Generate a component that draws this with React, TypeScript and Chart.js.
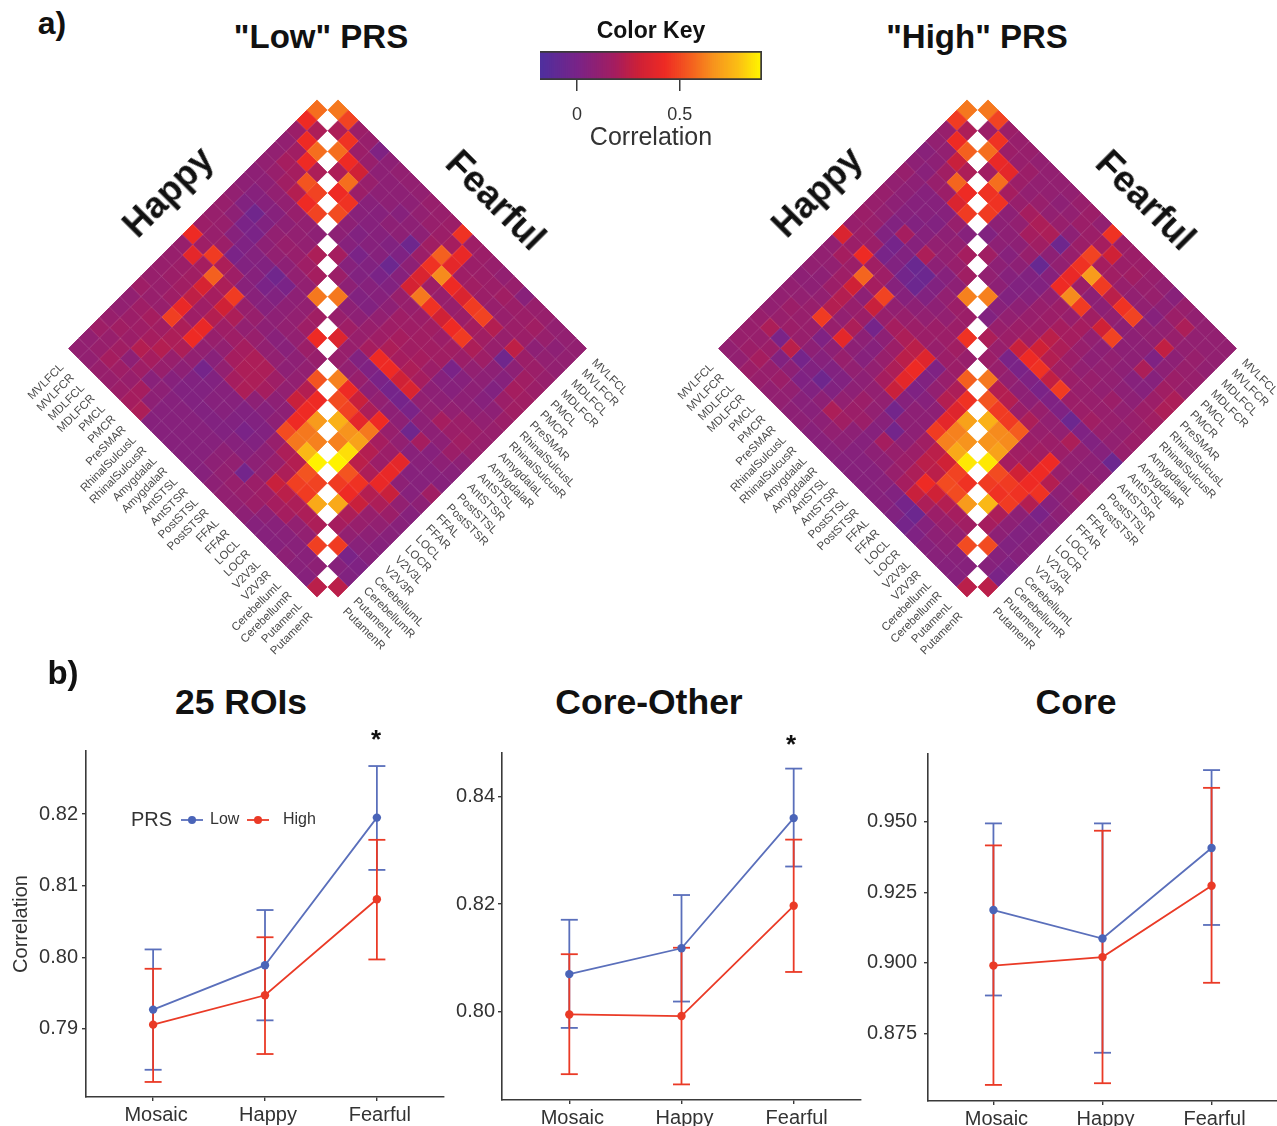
import React, { useEffect, useRef } from "react";
import { Chart, registerables } from "chart.js";

Chart.register(...registerables);
Chart.defaults.font.family = "'Liberation Sans', Arial, sans-serif";

// ---------- data ----------
const roiLabels = ["MVLFCL","MVLFCR","MDLFCL","MDLFCR","PMCL","PMCR","PreSMAR","RhinalSulcusL","RhinalSulcusR","AmygdalaL","AmygdalaR","AntSTSL","AntSTSR","PostSTSL","PostSTSR","FFAL","FFAR","LOCL","LOCR","V2V3L","V2V3R","CerebellumL","CerebellumR","PutamenL","PutamenR"];

// correlations in hundredths; row r holds columns 0..r of the lower triangle for ROI r+1
const lowHappy = [
[58],
[42,20],
[14,42,58],
[10,16,42,20],
[10,18,18,52,48],
[10,12,16,22,42,48],
[8,8,10,10,12,10,8],
[8,5,5,5,8,10,10,20],
[10,3,-4,3,10,12,12,15,18],
[12,8,0,0,8,10,8,10,10,60],
[12,12,5,2,4,3,-4,0,8,10,16],
[14,12,14,0,3,5,0,3,8,10,15,42],
[42,15,46,20,15,6,6,5,8,10,10,14,12],
[12,38,18,55,20,46,12,12,8,6,6,8,10,52],
[12,14,16,33,18,30,20,10,12,10,10,8,10,22,42],
[12,14,16,25,15,22,15,15,18,20,20,15,10,28,42,68],
[12,12,15,40,15,40,12,10,18,20,20,18,8,8,42,60,62],
[15,12,12,47,20,42,10,6,10,18,20,8,5,8,50,60,76,88],
[10,15,18,16,20,20,10,-2,3,5,5,3,3,3,12,20,22,52,48],
[10,14,15,18,22,12,8,3,3,5,5,3,0,3,8,12,20,47,46,72],
[12,16,14,22,18,12,5,3,3,3,3,3,5,5,8,10,28,24,20,20,20],
[15,12,16,8,15,6,8,5,5,5,5,5,8,10,-3,14,15,18,18,10,10,47],
[10,12,18,15,12,18,8,5,5,5,5,5,8,10,12,12,14,8,6,6,6,6,8],
[10,10,12,12,14,18,20,5,5,5,5,5,5,8,10,10,8,5,5,5,8,6,5,24],
];
const lowFearful = [
[60],
[48,20],
[14,44,58],
[12,14,42,20],
[2,12,30,58,42],
[8,8,12,14,44,50],
[10,8,8,6,6,8,8],
[10,8,8,5,5,3,5,18],
[10,8,5,8,5,5,0,5,14],
[12,10,8,8,3,5,3,3,8,60],
[12,12,8,-5,2,-6,0,5,3,8,12],
[14,14,16,14,8,5,3,5,3,8,15,35],
[44,18,55,44,34,32,12,8,10,12,12,12,12],
[15,40,38,64,15,60,12,15,15,15,18,3,10,62],
[14,14,15,42,12,44,14,15,18,20,42,2,12,42,50],
[12,14,16,34,12,30,16,16,16,18,42,0,8,28,48,74],
[10,14,14,46,14,42,14,16,18,20,30,-2,10,20,38,66,62],
[12,16,12,48,18,46,16,16,14,18,34,-2,8,42,60,70,84,88],
[6,14,12,22,16,20,14,0,5,8,10,0,8,12,18,22,24,52,46],
[12,14,14,12,12,15,10,5,5,8,10,8,-4,10,14,14,20,44,42,72],
[12,16,14,25,-4,8,8,8,8,10,18,8,18,6,38,40,40,22,28,20,18],
[10,12,8,14,8,5,3,5,8,14,14,8,5,6,5,8,28,20,12,12,10,46],
[10,8,10,14,16,18,14,8,10,14,16,14,8,5,5,5,10,14,10,8,6,0,5],
[10,10,10,12,14,16,16,14,12,12,12,8,6,5,16,8,5,6,6,5,5,2,3,24],
];
const highHappy = [
[60],
[46,20],
[12,42,55],
[10,10,28,20],
[6,8,16,56,42],
[8,6,12,14,34,46],
[12,8,5,5,5,12,5],
[10,8,5,5,3,8,10,18],
[12,8,5,3,5,10,10,12,16],
[12,10,3,18,5,20,8,5,8,62],
[14,12,3,-2,3,-7,-6,3,10,14,14],
[12,14,14,-1,3,-3,-6,3,8,10,14,44],
[34,14,42,16,15,5,5,8,10,14,14,16,12],
[10,18,14,56,18,48,10,12,14,14,12,14,14,55],
[10,10,15,30,8,28,12,18,20,24,36,2,12,20,44],
[10,8,14,22,12,14,-2,8,14,24,42,3,10,22,36,70],
[8,8,10,22,10,20,8,5,12,20,38,2,5,8,38,62,66],
[10,10,12,46,12,38,8,5,10,18,28,5,8,8,46,62,72,86],
[10,14,12,12,2,8,12,10,8,10,10,-3,8,8,16,24,30,48,44],
[10,12,14,12,8,5,3,3,8,14,10,6,-3,8,14,24,24,50,50,68],
[12,20,0,24,-2,3,-5,3,10,14,14,5,18,12,14,20,42,30,22,18,16],
[12,12,14,3,8,2,3,8,20,16,8,5,8,8,12,18,28,20,14,12,10,50],
[12,14,18,12,14,10,6,6,8,10,8,5,5,5,6,3,-2,-6,5,8,8,6,5],
[10,10,14,12,10,10,8,8,6,6,6,5,5,5,5,5,3,-2,2,5,6,5,5,24],
];
const highFearful = [
[60],
[48,14],
[14,44,58],
[12,14,40,16],
[12,12,38,58,44],
[10,14,14,18,44,46],
[10,10,10,12,8,8,3],
[10,10,12,18,10,8,8,16],
[10,8,10,20,18,8,5,8,10],
[12,10,12,20,16,12,8,5,8,62],
[14,14,8,-5,8,-8,3,3,3,6,3],
[10,14,14,12,10,5,3,5,8,10,12,20],
[44,18,48,44,40,42,10,12,12,14,14,12,14],
[14,30,18,68,14,64,14,14,14,16,28,0,12,60],
[14,14,16,46,8,46,12,18,24,30,42,0,10,22,52],
[14,16,12,24,8,16,18,18,20,22,44,2,8,22,46,74],
[12,12,10,44,10,30,10,12,14,16,26,0,8,14,46,64,66],
[10,12,10,48,8,48,8,8,10,14,46,2,12,20,54,64,70,86],
[6,8,5,10,8,8,10,10,12,12,14,2,10,12,14,16,18,50,46],
[12,14,10,10,8,8,8,10,10,12,14,-6,10,14,16,18,30,46,44,76],
[10,20,12,26,2,20,5,8,14,12,16,2,20,14,42,42,42,44,46,20,18],
[10,10,10,8,8,5,5,8,10,12,12,3,10,10,12,22,44,22,8,8,8,50],
[10,10,12,12,14,16,14,14,12,10,10,5,8,8,8,8,5,0,3,3,3,5,5],
[10,10,10,12,12,20,20,16,14,14,12,-6,8,10,14,10,8,6,5,5,5,2,0,24],
];

const conditions = ["Mosaic", "Happy", "Fearful"];

const allLowMean = [0.7927, 0.7989, 0.8195];
const allLowUpper = [0.8011, 0.8066, 0.8267];
const allLowLower = [0.7843, 0.7912, 0.8122];
const allHighMean = [0.7906, 0.7947, 0.8081];
const allHighUpper = [0.7984, 0.8028, 0.8164];
const allHighLower = [0.7826, 0.7865, 0.7997];

const coLowMean = [0.807, 0.8118, 0.836];
const coLowUpper = [0.8171, 0.8217, 0.8452];
const coLowLower = [0.797, 0.8019, 0.827];
const coHighMean = [0.7995, 0.7992, 0.8197];
const coHighUpper = [0.8107, 0.8119, 0.832];
const coHighLower = [0.7884, 0.7865, 0.8074];

const coreLowMean = [0.9187, 0.9086, 0.9407];
const coreLowUpper = [0.9494, 0.9494, 0.9683];
const coreLowLower = [0.8884, 0.8681, 0.9134];
const coreHighMean = [0.899, 0.902, 0.9273];
const coreHighUpper = [0.9416, 0.9468, 0.962];
const coreHighLower = [0.8567, 0.8573, 0.8929];

const keyTicks = [0, 0.5];

// ---------- styling ----------
const stops: [number, string][] = [
  [-0.18, "#4f2f9e"], [0, "#7a2387"], [0.18, "#a51d5f"], [0.29, "#cc2038"], [0.42, "#ee2a24"],
  [0.55, "#f4601f"], [0.66, "#f7941d"], [0.78, "#fbbf14"], [0.88, "#fff200"], [0.9, "#fff200"],
];
const hex = (s: string) => [1, 3, 5].map((k) => parseInt(s.slice(k, k + 2), 16));
function colorOf(v: number) {
  if (v <= stops[0][0]) return stops[0][1];
  for (let k = 1; k < stops.length; k++) {
    if (v <= stops[k][0]) {
      const t = (v - stops[k - 1][0]) / (stops[k][0] - stops[k - 1][0]);
      const a = hex(stops[k - 1][1]);
      const b = hex(stops[k][1]);
      return `rgb(${a.map((c, n) => Math.round(c + (b[n] - c) * t)).join(",")})`;
    }
  }
  return stops[stops.length - 1][1];
}

const CELL = 10.37;
const Y0 = 99.6;
const BLUE = "#5a6fbb";
const BLUE_DOT = "#4a64b8";
const RED = "#ea3a26";
const AXIS = "#3a3a3a";
const FONT = "'Liberation Sans', Arial, sans-serif";

function triangle(matrix: number[][], side: number) {
  const out: { x: number; y: number; v: number }[] = [];
  matrix.forEach((row, r) =>
    row.forEach((val, j) => {
      const i = r + 1;
      out.push({ x: side * (i - j), y: i + j, v: val / 100 });
    })
  );
  return out;
}

function heatConfig(happy: number[][], fearful: number[][], cx: number, left: number, top: number, w: number, h: number): any {
  const cell = (ctx: any) => (ctx.raw ? colorOf(ctx.raw.v) : "#fff");
  const ds = (label: string, data: any[]) => ({
    label, data, pointStyle: "rectRot", pointRadius: CELL - 0.3, pointHoverRadius: CELL,
    pointBackgroundColor: cell, pointBorderColor: cell, pointBorderWidth: 0.9, showLine: false,
  });
  const diag = roiLabels.map((_, k) => ({ x: 0, y: 2 * k }));
  return {
    type: "scatter",
    data: {
      datasets: [
        { label: "ROI", data: diag, pointStyle: "rectRot", pointRadius: CELL - 0.2, pointBackgroundColor: "#fff", pointBorderColor: "#fff", pointBorderWidth: 0, showLine: false },
        ds("Happy", triangle(happy, -1)),
        ds("Fearful", triangle(fearful, 1)),
      ],
    },
    options: {
      animation: false, responsive: false, events: [],
      layout: { padding: 0, autoPadding: false },
      plugins: { legend: { display: false }, tooltip: { enabled: false }, title: { display: false } },
      scales: {
        x: { type: "linear", display: false, min: (left - cx) / CELL, max: (left + w - cx) / CELL },
        y: { type: "linear", display: false, reverse: true, min: (top - Y0) / CELL, max: (top + h - Y0) / CELL },
      },
    },
    plugins: [{
      id: "roiLabels",
      afterDatasetsDraw(chart: any) {
        const { ctx, scales } = chart;
        ctx.save();
        ctx.font = `11.5px ${FONT}`;
        ctx.fillStyle = "#4a4a4a";
        ctx.textBaseline = "middle";
        roiLabels.forEach((name, j) => {
          const edge = 24 - j;
          const yv = 24 + j;
          ctx.save();
          ctx.translate(scales.x.getPixelForValue(-edge - 1.6), scales.y.getPixelForValue(yv + 1.65));
          ctx.rotate(-Math.PI / 4);
          ctx.textAlign = "right";
          ctx.fillText(name, 0, 0);
          ctx.restore();
          ctx.save();
          ctx.translate(scales.x.getPixelForValue(edge + 1.65), scales.y.getPixelForValue(yv + 1.2));
          ctx.rotate(Math.PI / 4);
          ctx.textAlign = "left";
          ctx.fillText(name, 0, 0);
          ctx.restore();
        });
        ctx.restore();
      },
    }],
  };
}

function lineConfig(o: any): any {
  const series = (name: string, color: string, dot: string, mean: number[], up: number[], lo: number[]) => {
    const meanDs = {
      label: name, data: mean.map((y, x) => ({ x, y })), showLine: true, borderColor: color, borderWidth: 1.8,
      pointStyle: "circle", pointRadius: 4.2, pointBackgroundColor: dot, pointBorderColor: dot, pointBorderWidth: 0, tension: 0,
    };
    const stems = mean.map((_, x) => ({
      label: `${name} interval ${conditions[x]}`, data: [{ x, y: lo[x] }, { x, y: up[x] }], showLine: true,
      borderColor: color, borderWidth: 1.8, pointRadius: 0,
    }));
    const caps = {
      label: `${name} caps`, data: [...up.map((y, x) => ({ x, y })), ...lo.map((y, x) => ({ x, y }))], showLine: false,
      pointStyle: "line", pointRadius: 8.5, pointBorderColor: color, pointBorderWidth: 1.8, pointBackgroundColor: color,
    };
    return { meanDs, stems, caps };
  };
  const low = series("Low", BLUE, BLUE_DOT, o.lowMean, o.lowUpper, o.lowLower);
  const high = series("High", RED, RED, o.highMean, o.highUpper, o.highLower);
  const fixedTicks = (vals: number[]) => (s: any) => { s.ticks = vals.map((value) => ({ value })); };
  return {
    type: "scatter",
    data: { datasets: [low.meanDs, high.meanDs, ...high.stems, high.caps, ...low.stems, low.caps] },
    options: {
      animation: false, responsive: false, events: [],
      layout: { padding: { top: o.padTop, right: o.padRight, left: 0, bottom: 0 }, autoPadding: false },
      plugins: { legend: { display: false }, tooltip: { enabled: false }, title: { display: false } },
      scales: {
        x: {
          type: "linear", min: -0.6, max: 2.6,
          afterBuildTicks: fixedTicks([0, 1, 2]),
          afterFit: (s: any) => { s.height = o.xHeight; },
          border: { display: true, color: AXIS, width: 1.6 },
          grid: { display: true, drawOnChartArea: false, drawTicks: true, tickLength: 4, color: AXIS, lineWidth: 1.4 },
          ticks: { color: "#333", font: { size: 20 }, padding: 2, labelOffset: 3, maxRotation: 0, autoSkip: false, callback: (v: number) => conditions[v] },
        },
        y: {
          type: "linear", min: o.yMin, max: o.yMax,
          afterBuildTicks: fixedTicks(o.yTicks),
          afterFit: (s: any) => { s.width = o.yWidth; },
          border: { display: true, color: AXIS, width: 1.6 },
          grid: { display: true, drawOnChartArea: false, drawTicks: true, tickLength: 4, color: AXIS, lineWidth: 1.4 },
          title: o.yTitle ? { display: true, text: "Correlation", color: "#333", font: { size: 20 }, padding: { top: 9, bottom: 0 } } : { display: false },
          ticks: { color: "#333", font: { size: 20 }, padding: o.yPad, autoSkip: false, callback: (v: number) => v.toFixed(o.yDigits) },
        },
      },
    },
    plugins: o.plugins || [],
  };
}

const prsLegend = {
  id: "prsLegend",
  afterDatasetsDraw(chart: any) {
    const { ctx } = chart;
    const y = 90;
    ctx.save();
    ctx.textBaseline = "middle";
    ctx.fillStyle = "#333";
    ctx.font = `20px ${FONT}`;
    ctx.fillText("PRS", 131, y);
    ctx.font = `16px ${FONT}`;
    ctx.fillText("Low", 210, y);
    ctx.fillText("High", 283, y);
    [[181, BLUE, BLUE_DOT], [247, RED, RED]].forEach(([x, c, d]: any) => {
      ctx.strokeStyle = c;
      ctx.lineWidth = 1.8;
      ctx.beginPath();
      ctx.moveTo(x, y);
      ctx.lineTo(x + 22, y);
      ctx.stroke();
      ctx.fillStyle = d;
      ctx.beginPath();
      ctx.arc(x + 11, y, 4, 0, Math.PI * 2);
      ctx.fill();
    });
    ctx.restore();
  },
};

function keyConfig(): any {
  const min = -0.18;
  const max = 0.9;
  const segs: any[] = [];
  for (let v = min; v < max; v += 0.01) {
    const c = colorOf(v + 0.005);
    segs.push({ data: [[v, Math.min(max, v + 0.014)]], backgroundColor: c, borderWidth: 0, grouped: false, barPercentage: 1, categoryPercentage: 1 });
  }
  return {
    type: "bar",
    data: {
      labels: ["Correlation"],
      datasets: [
        { data: [[min, max]], backgroundColor: "rgba(0,0,0,0)", borderColor: "#3a3a3a", borderWidth: 1.4, grouped: false, barPercentage: 1, categoryPercentage: 1 },
        ...segs,
      ],
    },
    options: {
      indexAxis: "y", animation: false, responsive: false, events: [],
      layout: { padding: { top: 41, left: 30, right: 30, bottom: 0 }, autoPadding: false },
      plugins: { legend: { display: false }, tooltip: { enabled: false }, title: { display: false } },
      scales: {
        y: { display: false },
        x: {
          type: "linear", min, max,
          afterBuildTicks: (s: any) => { s.ticks = keyTicks.map((value) => ({ value })); },
          afterFit: (s: any) => { s.height = 73; },
          border: { display: false },
          grid: { display: true, drawOnChartArea: false, drawTicks: true, tickLength: 11, color: "#3a3a3a", lineWidth: 1.5 },
          ticks: { color: "#333", font: { size: 18 }, padding: 13, autoSkip: false, maxRotation: 0, callback: (v: number) => String(v) },
          title: { display: true, text: "Correlation", color: "#333", font: { size: 25 }, padding: { top: -4, bottom: 0 } },
        },
      },
    },
  };
}

const panels = [
  { left: 0, top: 730, w: 450, h: 396, padTop: 21, padRight: 6, xHeight: 29, yWidth: 86, yMin: 0.7805, yMax: 0.8288, yTicks: [0.79, 0.8, 0.81, 0.82], yDigits: 2, yTitle: true, yPad: 4,
    lowMean: allLowMean, lowUpper: allLowUpper, lowLower: allLowLower, highMean: allHighMean, highUpper: allHighUpper, highLower: allHighLower, plugins: [prsLegend] },
  { left: 440, top: 725, w: 430, h: 401, padTop: 28, padRight: 9, xHeight: 26, yWidth: 62, yMin: 0.7836, yMax: 0.8481, yTicks: [0.8, 0.82, 0.84], yDigits: 2, yTitle: false, yPad: 3,
    lowMean: coLowMean, lowUpper: coLowUpper, lowLower: coLowLower, highMean: coHighMean, highUpper: coHighUpper, highLower: coHighLower },
  { left: 850, top: 725, w: 427, h: 401, padTop: 29, padRight: 0, xHeight: 25, yWidth: 78, yMin: 0.851, yMax: 0.974, yTicks: [0.875, 0.9, 0.925, 0.95], yDigits: 3, yTitle: false, yPad: 7,
    lowMean: coreLowMean, lowUpper: coreLowUpper, lowLower: coreLowLower, highMean: coreHighMean, highUpper: coreHighUpper, highLower: coreHighLower },
];

const heatBoxes = [
  { left: 0, top: 90, w: 650, h: 580, cx: 327.5, happy: lowHappy, fearful: lowFearful },
  { left: 650, top: 90, w: 627, h: 580, cx: 977.5, happy: highHappy, fearful: highFearful },
];

const texts: { t: string; x: number; y: number; s: number; b?: boolean; r?: number; c?: string }[] = [
  { t: "a)", x: 52, y: 23, s: 32, b: true },
  { t: "b)", x: 63, y: 672, s: 33, b: true },
  { t: "\"Low\" PRS", x: 321, y: 36, s: 33, b: true },
  { t: "\"High\" PRS", x: 977, y: 36, s: 33, b: true },
  { t: "Color Key", x: 651, y: 30, s: 23, b: true },
  { t: "Happy", x: 168, y: 192, s: 36, b: true, r: -45 },
  { t: "Fearful", x: 496, y: 200, s: 37, b: true, r: 45 },
  { t: "Happy", x: 817, y: 192, s: 36, b: true, r: -45 },
  { t: "Fearful", x: 1146, y: 200, s: 37, b: true, r: 45 },
  { t: "25 ROIs", x: 241, y: 703, s: 35.5, b: true },
  { t: "Core-Other", x: 649, y: 703, s: 35.5, b: true },
  { t: "Core", x: 1076, y: 703, s: 35.5, b: true },
  { t: "*", x: 376, y: 739, s: 26, b: true },
  { t: "*", x: 791, y: 744, s: 26, b: true },
];

export default function App() {
  const heatRefs = useRef<(HTMLCanvasElement | null)[]>([]);
  const panelRefs = useRef<(HTMLCanvasElement | null)[]>([]);
  const keyRef = useRef<HTMLCanvasElement | null>(null);

  useEffect(() => {
    const charts: Chart[] = [];
    heatBoxes.forEach((b, k) => {
      charts.push(new Chart(heatRefs.current[k]!, heatConfig(b.happy, b.fearful, b.cx, b.left, b.top, b.w, b.h)));
    });
    panels.forEach((p, k) => {
      charts.push(new Chart(panelRefs.current[k]!, lineConfig(p)));
    });
    charts.push(new Chart(keyRef.current!, keyConfig()));
    return () => charts.forEach((c) => c.destroy());
  }, []);

  const abs = (left: number, top: number): React.CSSProperties => ({ position: "absolute", left, top, display: "block" });

  return (
    <div style={{ position: "absolute", left: 0, top: 0, width: 1277, height: 1126, overflow: "hidden", background: "#fff", fontFamily: FONT }}>
      {heatBoxes.map((b, k) => (
        <canvas key={k} ref={(el) => { heatRefs.current[k] = el; }} width={b.w} height={b.h} style={{ ...abs(b.left, b.top), filter: "blur(0.6px)" }} />
      ))}
      {panels.map((p, k) => (
        <canvas key={k} ref={(el) => { panelRefs.current[k] = el; }} width={p.w} height={p.h} style={abs(p.left, p.top)} />
      ))}
      <canvas ref={keyRef} width={282} height={143} style={abs(510, 10)} />
      {texts.map((d, k) => (
        <div key={k} style={{
          position: "absolute", left: d.x, top: d.y, whiteSpace: "nowrap", fontSize: d.s, lineHeight: 1,
          fontWeight: d.b ? 700 : 400, color: d.c || "#111",
          transform: `translate(-50%,-50%) rotate(${d.r || 0}deg)`,
        }}>{d.t}</div>
      ))}
    </div>
  );
}
